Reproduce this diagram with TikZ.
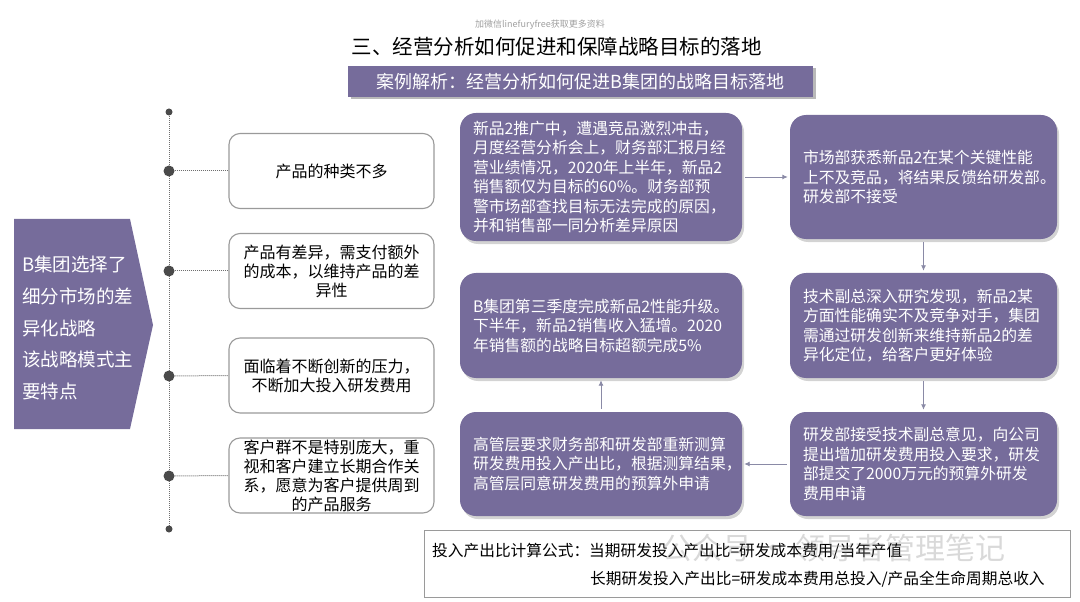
\documentclass[tikz,border=0pt]{standalone}
\usepackage{fontspec}
\setmainfont{Noto Sans CJK SC}
\usetikzlibrary{arrows.meta,shadows}
\definecolor{purp}{HTML}{766C9B}
\definecolor{bord}{HTML}{9A9A9A}
\definecolor{arr}{HTML}{8A8AA6}
\definecolor{dotc}{HTML}{4A4A4A}
\begin{document}
\begin{tikzpicture}[x=1bp,y=-1bp,
  pbox/.style={fill=purp, rounded corners=16bp, text=white, align=left,
    font=\fontsize{15.8bp}{19.5bp}\selectfont, inner xsep=13bp, inner ysep=0pt,
    drop shadow={opacity=0.35, shadow xshift=2bp, shadow yshift=-3bp}},
  pl/.style={pbox, text width=256bp, minimum width=282bp},
  pr/.style={pbox, text width=241bp, minimum width=267bp},
  wbox/.style={draw=bord, line width=1.1bp, fill=white, rounded corners=11bp,
    align=center, text width=192bp, inner xsep=6.5bp, inner ysep=0pt,
    minimum width=205bp, minimum height=75bp, font=\fontsize{16bp}{19bp}\selectfont},
  bigdot/.style={circle, fill=dotc, inner sep=0pt, minimum size=11bp},
  smalldot/.style={circle, fill=dotc, inner sep=0pt, minimum size=7bp},
  dline/.style={draw=dotc!80, line width=1bp, densely dotted},
  conn/.style={draw=arr, line width=0.9bp, -{Latex[length=5.5bp,width=5bp]}, shorten <=3bp, shorten >=2bp},
  ftext/.style={anchor=west, inner sep=0pt, font=\fontsize{15.7bp}{18bp}\selectfont}
]
\useasboundingbox (0,0) rectangle (1080,602);

% watermark top
\node[text=gray!75, font=\fontsize{9bp}{10bp}\selectfont] (wm1) at (540,25) {加微信linefuryfree获取更多资料};

% title and banner
\node[font=\fontsize{20.5bp}{22bp}\selectfont] (title) at (556.5,47) {三、经营分析如何促进和保障战略目标的落地};
\node[fill=purp, minimum width=465bp, minimum height=31bp, inner sep=0pt, text=white,
  font=\fontsize{18bp}{20bp}\selectfont,
  drop shadow={opacity=0.55, shadow xshift=2.5bp, shadow yshift=-2.5bp}] (banner) at (580.5,81.5)
  {案例解析：经营分析如何促进B集团的战略目标落地};

% left lead shape
\fill[purp] (14,219) -- (130,219) -- (153,325) -- (130,429) -- (14,429) -- cycle;
\node[anchor=west, align=left, text=white, inner sep=0pt,
  font=\fontsize{18.5bp}{31.7bp}\selectfont] (lead) at (22,328)
  {B集团选择了\\细分市场的差\\异化战略\\该战略模式主\\要特点};

% timeline
\coordinate (vtop) at (169,112);
\coordinate (vbot) at (169,529);
\draw[dline] (vtop) -- (vbot);
\node[smalldot] (t0) at (vtop) {};
\node[smalldot] (t5) at (vbot) {};
\node[bigdot] (d1) at (169,171) {};
\node[bigdot] (d2) at (169,271) {};
\node[bigdot] (d3) at (169,376) {};
\node[bigdot] (d4) at (169,476) {};

\node[wbox] (b1) at (331.5,171) {产品的种类不多};
\node[wbox] (b2) at (331.5,271) {产品有差异，需支付额外\\的成本，以维持产品的差\\异性};
\node[wbox] (b3) at (331.5,375.5) {面临着不断创新的压力，\\不断加大投入研发费用};
\node[wbox] (b4) at (331.5,475.5) {客户群不是特别庞大，重\\视和客户建立长期合作关\\系，愿意为客户提供周到\\的产品服务};

\draw[dline] (d1) -- (b1.west);
\draw[dline] (d2) -- (b2.west);
\draw[dline] (d3) -- (b3.west);
\draw[dline] (d4) -- (b4.west);

% process boxes
\node[pl, minimum height=128bp] (L1) at (601,177)
  {新品2推广中，遭遇竞品激烈冲击，\\月度经营分析会上，财务部汇报月经\\营业绩情况，2020年上半年，新品2\\销售额仅为目标的60\%。财务部预\\警市场部查找目标无法完成的原因，\\并和销售部一同分析差异原因};
\node[pr, minimum height=124bp] (R1) at (923.5,177)
  {市场部获悉新品2在某个关键性能\\上不及竞品，将结果反馈给研发部。\\研发部不接受\\[4bp]};
\node[pl, minimum height=105bp] (L2) at (601,325.5)
  {B集团第三季度完成新品2性能升级。\\下半年，新品2销售收入猛增。2020\\年销售额的战略目标超额完成5\%};
\node[pr, minimum height=105bp] (R2) at (923.5,325.5)
  {技术副总深入研究发现，新品2某\\方面性能确实不及竞争对手，集团\\需通过研发创新来维持新品2的差\\异化定位，给客户更好体验};
\node[pl, minimum height=104bp] (L3) at (601,464)
  {高管层要求财务部和研发部重新测算\\研发费用投入产出比，根据测算结果，\\高管层同意研发费用的预算外申请};
\node[pr, minimum height=104bp] (R3) at (923.5,464)
  {研发部接受技术副总意见，向公司\\提出增加研发费用投入要求，研发\\部提交了2000万元的预算外研发\\费用申请};

\draw[conn] (L1.east) -- (R1.west);
\draw[conn] (R1.south) -- (R2.north);
\draw[conn] (R2.south) -- (R3.north);
\draw[conn] (R3.west) -- (L3.east);
\draw[conn] (L3.north) -- (L2.south);

% formula box
\node[draw=bord, line width=1bp, minimum width=646bp, minimum height=67bp, inner sep=0pt] (F) at (747,563.5) {};
\node[ftext] (f1) at (432,551) {投入产出比计算公式：当期研发投入产出比=研发成本费用/当年产值};
\node[ftext] (f2) at (590,579) {长期研发投入产出比=研发成本费用总投入/产品全生命周期总收入};

% watermark bottom
\node[anchor=west, text=gray, opacity=0.3, inner sep=0pt, font=\fontsize{30bp}{32bp}\selectfont] (wm2) at (662,548) {公众号 · 领导者管理笔记};
\end{tikzpicture}
\end{document}
